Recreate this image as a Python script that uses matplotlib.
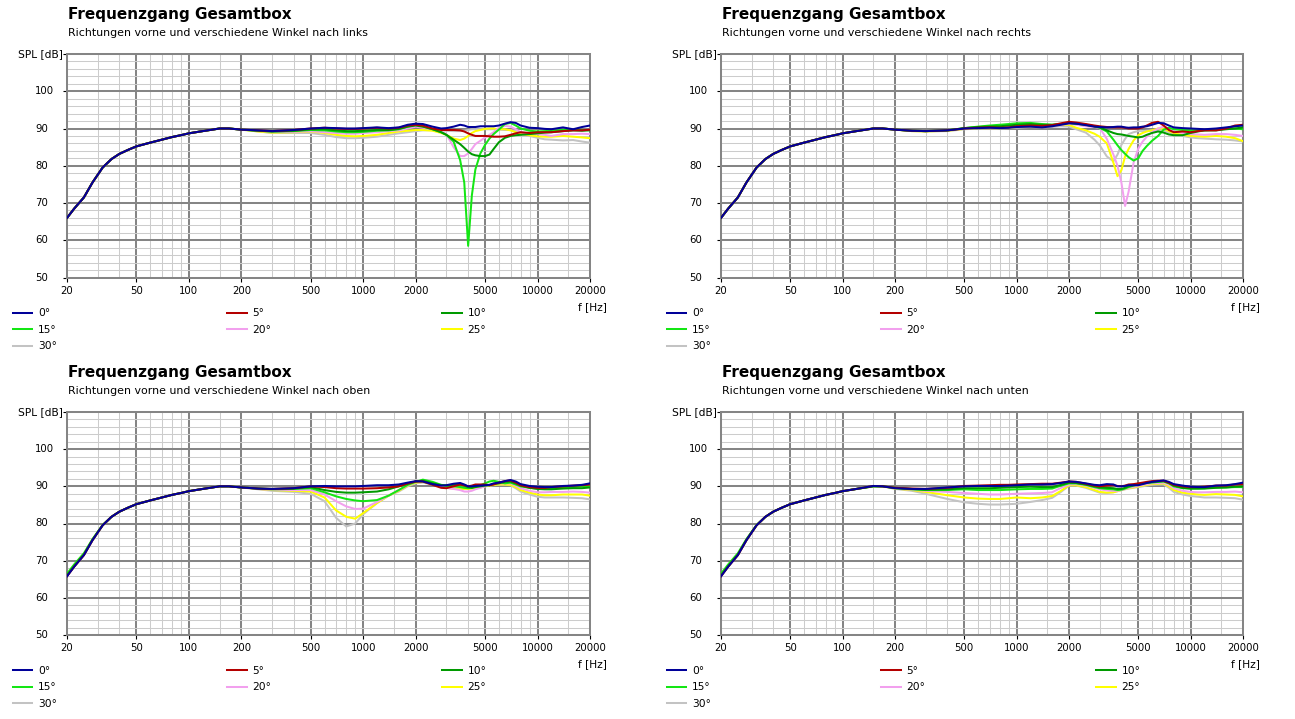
import matplotlib
matplotlib.use("Agg")
import matplotlib.pyplot as plt
from matplotlib.ticker import FixedLocator, NullFormatter
from matplotlib.transforms import offset_copy

W, H = 1295, 719

# ---------------- data ----------------
freq = [20, 22, 25, 28, 32, 36, 40, 45, 50, 60, 70, 80, 90, 100, 120, 150, 170, 200,
        250, 300, 400, 500, 600, 700, 800, 900, 1000,
        1200, 1400, 1600, 1800, 2000,
        2200, 2500, 2800, 3000, 3300, 3600, 3800, 4000, 4200, 4400,
        4700, 5000, 5300, 5600, 6000, 6500, 7000, 7500, 8000, 9000,
        10000, 11000, 12000, 14000, 16000, 18000, 20000]

angle_labels = ["0°", "5°", "10°", "15°", "20°", "25°", "30°"]
line_colors = ["#000099", "#b40000", "#009a00", "#14e614", "#f2a0ee", "#ffff00", "#c3c3c3"]

title_text = "Frequenzgang Gesamtbox"
subtitles = ["Richtungen vorne und verschiedene Winkel nach links",
             "Richtungen vorne und verschiedene Winkel nach rechts",
             "Richtungen vorne und verschiedene Winkel nach oben",
             "Richtungen vorne und verschiedene Winkel nach unten"]

xtick_values = [20, 50, 100, 200, 500, 1000, 2000, 5000, 10000, 20000]
xtick_labels = ["20", "50", "100", "200", "500", "1000", "2000", "5000", "10000", "20000"]
xminor_values = [30, 40, 60, 70, 80, 90, 150, 300, 400, 600, 700, 800, 900, 1500,
                 3000, 4000, 6000, 7000, 8000, 9000, 15000]
ytick_values = [50, 60, 70, 80, 90, 100, 110]
ytick_labels = ["50", "60", "70", "80", "90", "100", ""]
yminor_values = [v for v in range(50, 111, 2) if v % 10 != 0]

# --- nach links ---
links_00 = [66.0, 68.5, 71.5, 75.5, 79.5, 81.8, 83.2, 84.3, 85.2, 86.2, 87.0, 87.7, 88.2, 88.7, 89.3, 90.0, 90.0, 89.7,
            89.5, 89.3, 89.6, 90.0, 90.2, 90.1, 90.0, 90.0, 90.1,
            90.3, 90.1, 90.3, 91.0, 91.3,
            91.2, 90.5, 90.0, 90.1, 90.5, 91.0, 90.8, 90.4, 90.4, 90.4,
            90.6, 90.6, 90.6, 90.6, 90.8, 91.3, 91.7, 91.5, 90.8, 90.2,
            90.1, 89.9, 89.8, 90.3, 89.8, 90.4, 90.8]
links_05 = [66.0, 68.5, 71.5, 75.5, 79.5, 81.8, 83.2, 84.3, 85.2, 86.2, 87.0, 87.7, 88.2, 88.7, 89.3, 90.0, 90.0, 89.7,
            89.5, 89.3, 89.6, 90.0, 90.2, 90.0, 89.9, 89.9, 90.0,
            90.2, 90.0, 90.2, 90.8, 91.0,
            90.8, 90.0, 89.6, 89.6, 89.6, 89.5, 89.2, 88.7, 88.3, 88.0,
            88.0, 88.0, 87.9, 87.8, 87.8, 87.9, 88.3, 88.7, 89.0, 88.8,
            89.0, 89.0, 89.0, 89.3, 89.5, 89.5, 89.7]
links_10 = [66.0, 68.5, 71.5, 75.5, 79.5, 81.8, 83.2, 84.3, 85.2, 86.2, 87.0, 87.7, 88.2, 88.7, 89.3, 90.0, 90.0, 89.7,
            89.4, 89.2, 89.4, 89.8, 89.8, 89.5, 89.3, 89.3, 89.4,
            89.6, 89.6, 89.9, 90.5, 90.8,
            90.5, 89.8, 89.0, 88.3, 87.0, 85.8, 84.8, 83.8, 83.1, 82.8,
            82.6, 82.6, 83.0, 84.5, 86.3, 87.5, 88.0, 88.2, 88.3, 88.5,
            88.7, 88.9, 89.0, 89.3, 89.5, 89.4, 89.5]
links_15 = [66.0, 68.5, 71.5, 75.5, 79.5, 81.8, 83.2, 84.3, 85.2, 86.2, 87.0, 87.7, 88.2, 88.7, 89.3, 90.0, 90.0, 89.7,
            89.4, 89.2, 89.3, 89.6, 89.5, 89.2, 89.0, 89.0, 89.1,
            89.4, 89.5, 89.8, 90.5, 91.0,
            90.6, 89.8, 89.0, 88.3, 86.5, 81.5, 75.5, 58.5, 72.0, 79.0,
            83.3, 85.6, 87.3, 88.5, 89.7, 91.2, 91.5, 90.8, 90.0, 89.4,
            89.2, 89.3, 89.4, 89.6, 89.6, 89.6, 89.6]
links_20 = [66.0, 68.5, 71.5, 75.5, 79.5, 81.8, 83.2, 84.3, 85.2, 86.2, 87.0, 87.7, 88.2, 88.7, 89.3, 90.0, 90.0, 89.7,
            89.4, 89.1, 89.1, 89.3, 89.0, 88.8, 88.6, 88.6, 88.8,
            89.0, 89.3, 89.5, 90.0, 90.5,
            90.2, 89.8, 89.3, 88.5, 85.0, 82.6, 82.6, 83.3, 84.5, 85.8,
            86.7, 87.6, 88.3, 89.0, 90.2, 90.7, 90.5, 89.8, 89.0, 88.6,
            88.5, 88.3, 88.0, 88.5, 88.5, 88.6, 88.5]
links_25 = [66.0, 68.5, 71.5, 75.5, 79.5, 81.8, 83.2, 84.3, 85.2, 86.2, 87.0, 87.7, 88.2, 88.7, 89.3, 90.0, 90.0, 89.7,
            89.2, 88.9, 89.0, 89.2, 88.8, 88.3, 88.0, 87.9, 88.0,
            88.3, 88.8, 89.2, 89.4, 89.6,
            89.6, 89.4, 88.8, 88.3, 87.3, 86.9, 87.3, 88.0, 88.8, 89.3,
            89.6, 89.9, 90.0, 90.0, 89.8, 89.8, 89.5, 89.0, 88.6, 88.2,
            87.9, 87.8, 87.8, 88.0, 87.8, 87.6, 87.4]
links_30 = [66.0, 68.5, 71.5, 75.5, 79.5, 81.8, 83.2, 84.3, 85.2, 86.2, 87.0, 87.7, 88.2, 88.7, 89.3, 90.0, 90.0, 89.7,
            89.2, 88.8, 88.8, 88.8, 88.3, 87.7, 87.4, 87.4, 87.5,
            87.8, 88.3, 88.7, 89.0, 89.3,
            89.5, 89.6, 89.5, 89.4, 89.3, 89.3, 89.4, 89.6, 89.8, 89.8,
            89.8, 89.8, 89.8, 89.8, 89.7, 89.6, 89.6, 89.3, 88.6, 88.0,
            87.5, 87.1, 87.0, 86.8, 86.9, 86.5, 86.2]

# --- nach rechts ---
rechts_00 = [66.0, 68.5, 71.5, 75.5, 79.5, 81.8, 83.2, 84.3, 85.2, 86.2, 87.0, 87.7, 88.2, 88.7, 89.3, 90.0, 90.0, 89.7,
             89.4, 89.3, 89.5, 90.0, 90.1, 90.2, 90.1, 90.2, 90.4,
             90.5, 90.3, 90.6, 91.0, 91.4,
             91.3, 90.9, 90.5, 90.4, 90.3, 90.4, 90.5, 90.5, 90.3, 90.2,
             90.3, 90.3, 90.5, 90.6, 91.0, 91.5, 91.4, 90.8, 90.3, 90.1,
             90.0, 89.9, 89.8, 90.0, 90.3, 90.6, 90.8]
rechts_05 = [66.0, 68.5, 71.5, 75.5, 79.5, 81.8, 83.2, 84.3, 85.2, 86.2, 87.0, 87.7, 88.2, 88.7, 89.3, 90.0, 90.0, 89.7,
             89.4, 89.3, 89.5, 90.0, 90.2, 90.3, 90.2, 90.3, 90.6,
             90.8, 90.7, 90.9, 91.4, 91.8,
             91.6, 91.2, 90.8, 90.6, 90.4, 90.3, 90.3, 90.3, 90.2, 90.0,
             90.0, 90.0, 90.3, 90.8, 91.5, 91.8, 90.8, 89.6, 89.0, 89.2,
             89.0, 89.3, 89.5, 89.5, 90.0, 90.8, 91.0]
rechts_10 = [66.0, 68.5, 71.5, 75.5, 79.5, 81.8, 83.2, 84.3, 85.2, 86.2, 87.0, 87.7, 88.2, 88.7, 89.3, 90.0, 90.0, 89.7,
             89.4, 89.3, 89.5, 90.1, 90.4, 90.5, 90.6, 90.8, 91.0,
             91.2, 91.0, 91.0, 91.2, 91.5,
             91.3, 91.0, 90.6, 90.3, 89.5, 88.8, 88.5, 88.4, 88.2, 88.0,
             87.8, 87.6, 87.8, 88.3, 88.8, 89.2, 88.9, 88.4, 88.2, 88.2,
             88.8, 89.2, 89.5, 89.5, 89.8, 90.0, 90.3]
rechts_15 = [66.0, 68.5, 71.5, 75.5, 79.5, 81.8, 83.2, 84.3, 85.2, 86.2, 87.0, 87.7, 88.2, 88.7, 89.3, 90.0, 90.0, 89.7,
             89.4, 89.3, 89.5, 90.1, 90.5, 90.8, 91.0, 91.2, 91.4,
             91.5, 91.2, 91.0, 91.2, 91.5,
             91.3, 91.0, 90.6, 90.2, 89.2, 87.0, 85.5, 84.2, 83.2, 82.3,
             81.4, 82.0, 84.0, 85.3, 86.7, 88.0, 89.7, 90.2, 89.8, 89.6,
             89.5, 89.5, 89.5, 89.7, 90.0, 90.0, 89.8]
rechts_20 = [66.0, 68.5, 71.5, 75.5, 79.5, 81.8, 83.2, 84.3, 85.2, 86.2, 87.0, 87.7, 88.2, 88.7, 89.3, 90.0, 90.0, 89.7,
             89.4, 89.3, 89.5, 90.0, 90.2, 90.2, 90.2, 90.3, 90.5,
             90.7, 90.5, 90.7, 91.0, 91.3,
             91.0, 90.6, 90.4, 90.2, 87.2, 83.0, 80.0, 75.5, 69.2, 73.0,
             80.8, 84.6, 86.5, 87.8, 89.0, 90.0, 90.5, 90.0, 89.3, 88.8,
             88.5, 88.4, 88.3, 88.5, 88.5, 88.3, 88.0]
rechts_25 = [66.0, 68.5, 71.5, 75.5, 79.5, 81.8, 83.2, 84.3, 85.2, 86.2, 87.0, 87.7, 88.2, 88.7, 89.3, 90.0, 90.0, 89.7,
             89.3, 89.2, 89.4, 89.9, 90.1, 90.1, 90.1, 90.2, 90.4,
             90.6, 90.5, 90.7, 91.0, 91.0,
             90.2, 89.5, 88.6, 87.8, 86.0, 80.8, 77.2, 78.8, 82.5, 84.5,
             86.8, 88.2, 88.8, 89.2, 89.5, 90.0, 90.0, 89.3, 88.8, 88.3,
             88.0, 87.9, 87.8, 88.0, 87.8, 87.4, 86.6]
rechts_30 = [66.0, 68.5, 71.5, 75.5, 79.5, 81.8, 83.2, 84.3, 85.2, 86.2, 87.0, 87.7, 88.2, 88.7, 89.3, 90.0, 90.0, 89.7,
             89.3, 89.2, 89.3, 89.8, 90.0, 90.0, 90.0, 90.1, 90.2,
             90.4, 90.3, 90.4, 90.6, 90.5,
             89.8, 88.9, 87.0, 85.5, 82.5, 81.2, 83.0, 85.6, 87.2, 88.5,
             89.0, 89.3, 89.3, 89.4, 89.5, 89.6, 89.5, 89.0, 88.5, 88.0,
             87.6, 87.4, 87.3, 87.1, 87.0, 86.8, 86.5]

# --- nach oben ---
oben_00 = [65.8, 68.4, 71.5, 75.5, 79.5, 81.8, 83.2, 84.3, 85.2, 86.2, 87.0, 87.7, 88.2, 88.7, 89.3, 90.0, 90.0, 89.7,
           89.4, 89.3, 89.5, 90.0, 90.1, 90.0, 90.0, 90.0, 90.1,
           90.3, 90.3, 90.5, 91.0, 91.4,
           91.3, 90.6, 90.2, 90.3, 90.7, 90.9, 90.5, 90.0, 90.0, 90.1,
           90.2, 90.3, 90.4, 90.8, 91.0, 91.4, 91.7, 91.3, 90.6, 90.1,
           89.9, 89.8, 89.8, 90.1, 90.2, 90.4, 90.8]
oben_05 = [65.8, 68.4, 71.5, 75.5, 79.5, 81.8, 83.2, 84.3, 85.2, 86.2, 87.0, 87.7, 88.2, 88.7, 89.3, 90.0, 90.0, 89.7,
           89.4, 89.3, 89.5, 90.0, 89.8, 89.5, 89.4, 89.4, 89.4,
           89.5, 89.7, 90.0, 90.8, 91.3,
           91.3, 90.4, 89.6, 89.5, 90.0, 90.5, 90.3, 90.0, 90.2, 90.5,
           90.5, 90.5, 90.3, 90.5, 91.0, 91.4, 91.6, 91.0, 90.3, 89.8,
           89.6, 89.6, 89.8, 90.0, 90.2, 90.3, 90.5]
oben_10 = [66.0, 68.5, 71.6, 75.6, 79.5, 81.8, 83.2, 84.3, 85.2, 86.2, 87.0, 87.7, 88.2, 88.7, 89.3, 90.0, 90.0, 89.7,
           89.4, 89.3, 89.4, 89.8, 89.0, 88.5, 88.3, 88.3, 88.4,
           88.6, 89.2, 90.0, 90.7, 91.3,
           91.5, 90.8, 90.3, 90.2, 90.4, 90.5, 90.2, 89.8, 89.6, 89.8,
           90.0, 90.2, 90.3, 90.6, 90.8, 91.2, 91.3, 90.8, 90.2, 89.6,
           89.3, 89.2, 89.2, 89.4, 89.5, 89.5, 89.7]
oben_15 = [66.5, 69.0, 72.0, 75.8, 79.6, 81.8, 83.2, 84.3, 85.2, 86.2, 87.0, 87.7, 88.2, 88.7, 89.3, 90.0, 90.0, 89.7,
           89.4, 89.2, 89.3, 89.5, 88.4, 87.3, 86.6, 86.2, 86.0,
           86.3, 87.5, 89.0, 90.4, 91.2,
           91.8, 91.2, 90.4, 90.2, 90.0, 89.8, 89.6, 89.5, 89.6, 90.0,
           90.3, 90.8, 91.3, 91.5, 91.2, 90.8, 91.0, 90.5, 90.0, 89.6,
           89.4, 89.4, 89.5, 89.8, 89.8, 90.0, 90.0]
oben_20 = [66.0, 68.5, 71.5, 75.5, 79.5, 81.8, 83.2, 84.3, 85.2, 86.2, 87.0, 87.7, 88.2, 88.7, 89.3, 90.0, 90.0, 89.7,
           89.3, 89.1, 89.0, 89.0, 87.8, 86.0, 84.6, 83.9, 84.0,
           85.8, 87.5, 89.0, 90.3, 91.2,
           91.5, 90.8, 90.0, 89.6, 89.3, 89.0, 88.6, 88.6, 88.8, 89.2,
           89.6, 90.0, 90.4, 90.7, 90.8, 90.8, 90.8, 90.2, 89.5, 88.8,
           88.4, 88.4, 88.5, 88.5, 88.6, 88.5, 88.3]
oben_25 = [66.0, 68.5, 71.5, 75.5, 79.5, 81.8, 83.2, 84.3, 85.2, 86.2, 87.0, 87.7, 88.2, 88.7, 89.3, 90.0, 90.0, 89.7,
           89.3, 89.0, 88.8, 88.6, 87.0, 83.5, 81.8, 81.3, 82.8,
           85.5, 87.5, 88.8, 90.2, 91.0,
           91.2, 90.6, 90.0, 89.6, 89.4, 89.3, 89.3, 89.3, 89.4, 89.5,
           89.7, 90.0, 90.2, 90.4, 90.5, 90.5, 90.4, 89.8, 89.0, 88.3,
           87.8, 87.6, 87.6, 87.8, 87.8, 87.8, 87.5]
oben_30 = [66.0, 68.5, 71.5, 75.5, 79.5, 81.8, 83.2, 84.3, 85.2, 86.2, 87.0, 87.7, 88.2, 88.7, 89.3, 90.0, 90.0, 89.7,
           89.2, 88.8, 88.5, 88.0, 86.0, 81.5, 79.2, 80.0, 82.5,
           85.5, 87.5, 88.6, 90.0, 90.8,
           91.0, 90.5, 90.0, 89.6, 89.4, 89.3, 89.3, 89.4, 89.5, 89.7,
           89.8, 90.0, 90.2, 90.3, 90.4, 90.4, 90.3, 89.5, 88.6, 87.8,
           87.2, 87.0, 87.0, 87.0, 86.9, 86.8, 86.5]

# --- nach unten ---
unten_00 = [65.8, 68.4, 71.5, 75.5, 79.5, 81.8, 83.2, 84.3, 85.2, 86.2, 87.0, 87.7, 88.2, 88.7, 89.3, 90.1, 90.0, 89.5,
            89.3, 89.3, 89.7, 90.0, 90.1, 90.1, 90.1, 90.2, 90.3,
            90.5, 90.5, 90.6, 90.9, 91.3,
            91.2, 90.8, 90.4, 90.3, 90.6, 90.5, 90.0, 90.0, 90.1, 90.3,
            90.3, 90.3, 90.6, 90.9, 91.2, 91.4, 91.6, 91.2, 90.6, 90.2,
            89.9, 89.8, 89.8, 90.2, 90.3, 90.6, 91.0]
unten_05 = [65.8, 68.4, 71.5, 75.5, 79.5, 81.8, 83.2, 84.3, 85.2, 86.2, 87.0, 87.7, 88.2, 88.7, 89.3, 90.1, 90.0, 89.6,
            89.4, 89.3, 89.6, 90.1, 90.2, 90.3, 90.4, 90.4, 90.5,
            90.6, 90.7, 90.7, 91.0, 91.3,
            91.2, 90.7, 90.2, 90.0, 90.2, 90.3, 90.1, 90.0, 90.2, 90.5,
            90.6, 90.8, 91.0, 91.2, 91.4, 91.5, 91.5, 91.0, 90.4, 90.0,
            89.8, 89.8, 89.9, 90.2, 90.2, 90.5, 90.6]
unten_10 = [66.0, 68.5, 71.6, 75.6, 79.5, 81.8, 83.2, 84.3, 85.2, 86.2, 87.0, 87.7, 88.2, 88.7, 89.3, 90.0, 90.0, 89.6,
            89.3, 89.1, 89.2, 89.5, 89.5, 89.5, 89.6, 89.7, 89.8,
            89.9, 89.8, 89.8, 90.4, 91.0,
            90.9, 90.5, 90.0, 89.7, 89.6, 89.5, 89.3, 89.3, 89.6, 90.0,
            90.3, 90.5, 90.8, 91.0, 91.2, 91.3, 91.4, 90.9, 90.2, 89.6,
            89.4, 89.4, 89.4, 89.6, 89.7, 89.9, 90.0]
unten_15 = [66.5, 69.0, 72.0, 75.8, 79.6, 81.8, 83.2, 84.3, 85.2, 86.2, 87.0, 87.7, 88.2, 88.7, 89.3, 90.0, 90.0, 89.5,
            89.2, 89.0, 89.0, 89.2, 89.0, 89.0, 89.0, 89.1, 89.2,
            89.3, 89.3, 89.4, 90.2, 90.8,
            90.8, 90.4, 89.8, 89.5, 89.3, 89.2, 89.0, 89.1, 89.4, 89.8,
            90.2, 90.5, 90.7, 90.9, 91.0, 91.2, 91.3, 90.8, 90.0, 89.5,
            89.4, 89.4, 89.5, 89.7, 89.7, 89.8, 89.8]
unten_20 = [66.0, 68.5, 71.5, 75.5, 79.5, 81.8, 83.2, 84.3, 85.2, 86.2, 87.0, 87.7, 88.2, 88.7, 89.3, 90.0, 90.0, 89.5,
            89.1, 88.8, 88.5, 88.2, 88.0, 87.8, 87.8, 87.9, 88.0,
            88.1, 88.2, 88.4, 89.6, 90.5,
            90.6, 90.2, 89.6, 89.2, 88.9, 88.8, 88.8, 89.0, 89.3, 89.6,
            89.9, 90.2, 90.4, 90.6, 90.8, 90.9, 91.0, 90.4, 89.5, 88.8,
            88.5, 88.4, 88.4, 88.5, 88.5, 88.6, 88.4]
unten_25 = [66.0, 68.5, 71.5, 75.5, 79.5, 81.8, 83.2, 84.3, 85.2, 86.2, 87.0, 87.7, 88.2, 88.7, 89.3, 90.0, 90.0, 89.4,
            89.0, 88.5, 87.6, 87.0, 86.7, 86.6, 86.6, 86.8, 87.0,
            86.8, 87.0, 87.4, 88.8, 90.3,
            90.3, 89.8, 89.0, 88.5, 88.3, 88.4, 88.7, 89.0, 89.3, 89.5,
            89.7, 90.0, 90.2, 90.4, 90.6, 90.7, 90.8, 90.0, 89.0, 88.3,
            88.0, 87.8, 87.7, 87.9, 87.8, 87.7, 87.3]
unten_30 = [66.0, 68.5, 71.5, 75.5, 79.5, 81.8, 83.2, 84.3, 85.2, 86.2, 87.0, 87.7, 88.2, 88.7, 89.3, 90.0, 90.0, 89.3,
            88.8, 88.0, 86.6, 85.7, 85.3, 85.1, 85.1, 85.2, 85.3,
            85.8, 86.3, 86.9, 88.5, 90.2,
            90.2, 89.6, 88.8, 88.3, 88.2, 88.4, 88.7, 89.0, 89.2, 89.4,
            89.6, 89.8, 90.0, 90.2, 90.4, 90.5, 90.5, 89.6, 88.5, 87.8,
            87.4, 87.2, 87.0, 87.0, 86.9, 86.8, 86.4]

panel_series = [
    [links_00, links_05, links_10, links_15, links_20, links_25, links_30],
    [rechts_00, rechts_05, rechts_10, rechts_15, rechts_20, rechts_25, rechts_30],
    [oben_00, oben_05, oben_10, oben_15, oben_20, oben_25, oben_30],
    [unten_00, unten_05, unten_10, unten_15, unten_20, unten_25, unten_30],
]

# ---------------- layout (pixels) ----------------
# (left, top, right, bottom) of each plotting area
panel_boxes = [(67, 54, 590, 277.5), (721, 54, 1243, 277.5),
               (67, 412, 590, 635), (721, 412, 1243, 635)]


def fx(px):
    return px / W


def fy(py):
    return 1 - py / H


MAJOR_C = "#858585"
MINOR_C = "#cccccc"
NUM_FS = 7.3
TXT_FS = 7.7

fig = plt.figure(figsize=(W / 100, H / 100), dpi=100)
fig.patch.set_facecolor("white")

for idx, (box, series, sub) in enumerate(zip(panel_boxes, panel_series, subtitles)):
    l, t, r, b = box
    ax = fig.add_axes([fx(l), fy(b), fx(r) - fx(l), fy(t) - fy(b)])
    ax.set_xscale("log")
    ax.set_xlim(20, 20000)
    ax.set_ylim(50, 110)

    handles = []
    for vals, lab, col in zip(series, angle_labels, line_colors):
        ln, = ax.plot(freq, vals, color=col, lw=1.45, label=lab, solid_joinstyle="round")
        handles.append(ln)
    # draw 0° on top
    for z, ln in enumerate(handles):
        ln.set_zorder(10 - z)

    ax.set_xticks(xtick_values, labels=xtick_labels)
    ax.xaxis.set_minor_locator(FixedLocator(xminor_values))
    ax.xaxis.set_minor_formatter(NullFormatter())
    ax.set_yticks(ytick_values)
    ax.yaxis.set_minor_locator(FixedLocator(yminor_values))

    ax.grid(which="major", color=MAJOR_C, lw=1.45)
    ax.grid(which="minor", color=MINOR_C, lw=0.75)
    ax.set_axisbelow(True)
    for s in ax.spines.values():
        s.set_color(MAJOR_C)
        s.set_linewidth(1.45)

    ax.tick_params(which="major", direction="out", length=2.9, width=0.8,
                   color="black", labelsize=NUM_FS, labelcolor="black")
    ax.tick_params(axis="x", which="major", pad=3.0)
    ax.tick_params(axis="y", which="major", labelleft=False)
    ax.tick_params(which="minor", length=0)

    # y tick labels: left aligned in a column left of the plot
    ylab_trans = offset_copy(ax.get_yaxis_transform(), fig=fig, x=-32, y=0, units="dots")
    for v, lab in zip(ytick_values, ytick_labels):
        ax.text(0, v, lab, transform=ylab_trans, ha="left", va="center",
                fontsize=NUM_FS, clip_on=False)

    # titles
    fig.text(fx(l + 0.5), fy(t - 39), title_text, fontsize=11, fontweight="bold",
             ha="left", va="center")
    fig.text(fx(l + 0.5), fy(t - 21), sub, fontsize=7.9, ha="left", va="center")
    # axis captions
    fig.text(fx(l - 4.5), fy(t), "SPL [dB]", fontsize=TXT_FS, ha="right", va="center")
    fig.text(fx(r + 2), fy(b + 29.5), "f [Hz]", fontsize=TXT_FS, ha="center", va="center")

    # legend: three columns
    columns = [[0, 3, 6], [1, 4], [2, 5]]
    col_x = [l - 54.5, l + 160, l + 375]
    for cols, cx in zip(columns, col_x):
        fig.legend([handles[i] for i in cols], [angle_labels[i] for i in cols],
                   loc="upper left", bbox_to_anchor=(fx(cx), fy(b + 31)),
                   frameon=False, fontsize=TXT_FS, handlelength=1.85,
                   handletextpad=0.55, labelspacing=0.6, borderpad=0,
                   borderaxespad=0)

fig.savefig("out.png", dpi=100, facecolor="white")
